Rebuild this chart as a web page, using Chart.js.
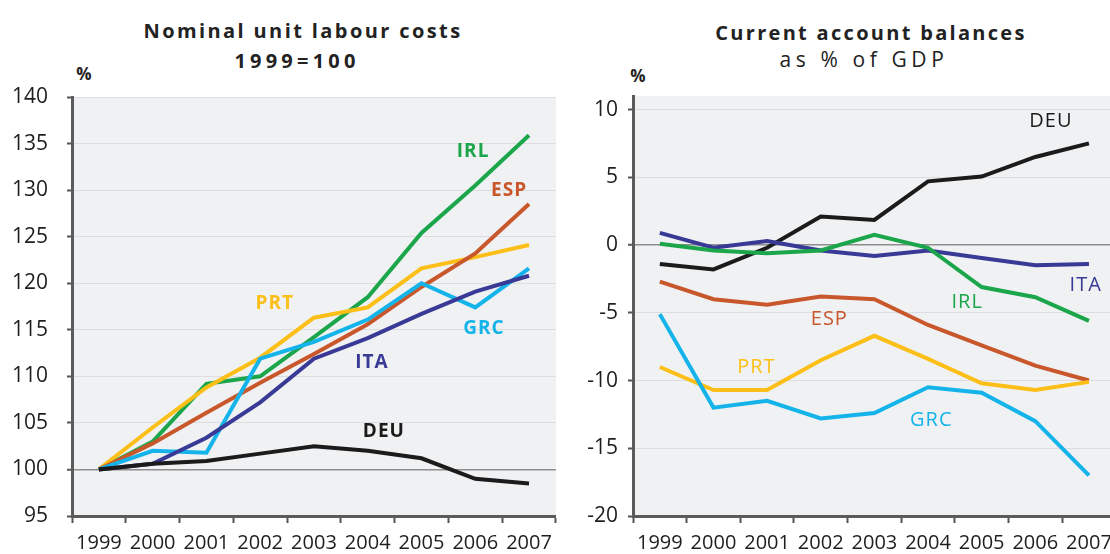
<!DOCTYPE html>
<html>
<head>
<meta charset="utf-8">
<script src="https://cdn.jsdelivr.net/npm/chart.js@4/dist/chart.umd.min.js"></script>
<style>
  html, body { margin: 0; padding: 0; background: #fff; overflow: hidden; width: 1110px; height: 554px; }
  body { position: relative; font-family: "Open Sans", sans-serif; color: #222; }
  canvas { position: absolute; top: 0; }
  .t { position: absolute; white-space: nowrap; transform: translateX(-50%); }
  .bold { font-weight: bold; }
</style>
</head>
<body>
<div class="t bold" style="left:303px; top:17px; font-size:20px; letter-spacing:2.4px;">Nominal unit labour costs</div>
<div class="t bold" style="left:297px; top:47px; font-size:20px; letter-spacing:4.2px;">1999=100</div>
<div class="t bold" style="left:84px; top:62px; font-size:17px;">%</div>
<div class="t bold" style="left:871px; top:19px; font-size:20px; letter-spacing:2.3px;">Current account balances</div>
<div class="t" style="left:864px; top:45px; font-size:21px; letter-spacing:4.6px;">as % of GDP</div>
<div class="t bold" style="left:638px; top:64px; font-size:17px;">%</div>

<canvas id="ulc" width="560" height="554" style="left:0"></canvas>
<canvas id="cab" width="560" height="554" style="left:560px"></canvas>

<script>
const years = ["1999", "2000", "2001", "2002", "2003", "2004", "2005", "2006", "2007"];

// Nominal unit labour costs, 1999=100
const ulcDEU = [100, 100.6, 100.9, 101.7, 102.5, 102.0, 101.2, 99.0, 98.5];
const ulcGRC = [100, 102.0, 101.8, 111.9, 113.7, 116.1, 120.0, 117.4, 121.6];
const ulcITA = [100, 100.6, 103.4, 107.2, 111.9, 114.1, 116.7, 119.1, 120.8];
const ulcESP = [100, 102.8, 106.1, 109.3, 112.4, 115.6, 119.6, 123.2, 128.5];
const ulcPRT = [100, 104.5, 108.8, 112.0, 116.3, 117.4, 121.6, 122.8, 124.1];
const ulcIRL = [100, 103.0, 109.2, 110.0, 114.2, 118.5, 125.4, 130.5, 135.9];

// Current account balances, % of GDP
const cabDEU = [-1.4, -1.8, -0.2, 2.1, 1.85, 4.7, 5.05, 6.5, 7.5];
const cabITA = [0.9, -0.2, 0.3, -0.4, -0.8, -0.4, -0.95, -1.5, -1.4];
const cabIRL = [0.1, -0.4, -0.6, -0.4, 0.75, -0.2, -3.1, -3.85, -5.6];
const cabESP = [-2.7, -4.0, -4.4, -3.8, -4.0, -5.9, -7.4, -8.9, -10.0];
const cabPRT = [-9.0, -10.7, -10.7, -8.5, -6.7, -8.4, -10.2, -10.7, -10.1];
const cabGRC = [-5.1, -12.0, -11.5, -12.8, -12.4, -10.5, -10.9, -13.0, -17.0];

const ulcTicks = [95, 100, 105, 110, 115, 120, 125, 130, 135, 140];
const cabTicks = [-20, -15, -10, -5, 0, 5, 10];

const colors = {
  DEU: "#1b1b1b", GRC: "#14b4ea", ITA: "#393996",
  ESP: "#c9572c", PRT: "#fcbf17", IRL: "#1ba64b"
};

// series labels placed at (category index, value)
const ulcLabels = [
  { text: "IRL", x: 6.96, y: 134.1 },
  { text: "ESP", x: 7.63, y: 130.0 },
  { text: "PRT", x: 3.27, y: 117.8 },
  { text: "GRC", x: 7.16, y: 115.1 },
  { text: "ITA", x: 5.08, y: 111.5 },
  { text: "DEU", x: 5.3, y: 104.1 }
];
const cabLabels = [
  { text: "DEU", x: 7.29, y: 9.1 },
  { text: "ITA", x: 7.94, y: -3.0 },
  { text: "IRL", x: 5.73, y: -4.2 },
  { text: "ESP", x: 3.16, y: -5.5 },
  { text: "PRT", x: 1.8, y: -9.0 },
  { text: "GRC", x: 5.06, y: -12.9 }
];

const FONT = "'Open Sans', sans-serif";

function ds(name, data) {
  return {
    label: name, data: data,
    borderColor: colors[name], backgroundColor: colors[name],
    borderWidth: 4, pointRadius: 0, tension: 0, fill: false
  };
}

const plotBg = {
  id: "plotBg",
  beforeDraw(chart) {
    const { ctx, chartArea: a } = chart;
    ctx.save();
    ctx.fillStyle = "#f0f1f3";
    ctx.fillRect(a.left, a.top, a.right - a.left, a.bottom - a.top);
    ctx.restore();
  }
};

const seriesLabels = {
  id: "seriesLabels",
  afterDatasetsDraw(chart, args, opts) {
    const ctx = chart.ctx;
    const xs = chart.scales.x, ys = chart.scales.y;
    ctx.save();
    ctx.font = opts.font;
    ctx.textAlign = "center";
    ctx.textBaseline = "middle";
    ctx.letterSpacing = "1px";
    opts.items.forEach(l => {
      ctx.fillStyle = colors[l.text];
      ctx.fillText(l.text, xs.getPixelForValue(l.x), ys.getPixelForValue(l.y));
    });
    ctx.restore();
  }
};

function makeChart(id, sets, min, max, tickVals, baseLine, yPad, axisW, topPad, rightPad, labels, labelFont) {
  return new Chart(document.getElementById(id), {
    type: "line",
    data: { labels: years, datasets: sets },
    plugins: [plotBg, seriesLabels],
    options: {
      responsive: false,
      animation: false,
      devicePixelRatio: 1,
      layout: { padding: { top: topPad, right: rightPad, left: 0, bottom: 0 } },
      plugins: {
        legend: { display: false },
        tooltip: { enabled: false },
        seriesLabels: { items: labels, font: labelFont }
      },
      scales: {
        x: {
          type: "category",
          offset: true,
          grid: { offset: true, drawOnChartArea: false, tickColor: "#555", tickWidth: 2, tickLength: 7 },
          border: { color: "#5b5b5b", width: 3 },
          ticks: { color: "#1e1e1e", font: { family: FONT, size: 20 }, padding: 8, maxRotation: 0, autoSkip: false },
          afterFit(s) { s.height = 38; }
        },
        y: {
          min: min, max: max,
          afterBuildTicks(s) { s.ticks = tickVals.map(v => ({ value: v })); },
          grid: {
            color: c => (c.tick && c.tick.value === baseLine) ? "#8d8d8d" : "#dcdde1",
            lineWidth: c => (c.tick && c.tick.value === baseLine) ? 1.5 : 1,
            tickColor: "#555", tickWidth: 2, tickLength: 5
          },
          border: { color: "#5b5b5b", width: 3 },
          ticks: { color: "#1e1e1e", font: { family: FONT, size: 21 }, padding: yPad },
          afterFit(s) { s.width = axisW; }
        }
      }
    }
  });
}

makeChart("ulc",
  [ds("DEU", ulcDEU), ds("ITA", ulcITA), ds("GRC", ulcGRC), ds("ESP", ulcESP), ds("PRT", ulcPRT), ds("IRL", ulcIRL)],
  95, 140, ulcTicks, 100, 19, 72, 97, 2, ulcLabels, "bold 19px " + FONT);

makeChart("cab",
  [ds("GRC", cabGRC), ds("PRT", cabPRT), ds("ESP", cabESP), ds("IRL", cabIRL), ds("ITA", cabITA), ds("DEU", cabDEU)],
  -20, 11, cabTicks, 0, 10, 73, 96, 3.25, cabLabels, "20px " + FONT);
</script>
</body>
</html>
